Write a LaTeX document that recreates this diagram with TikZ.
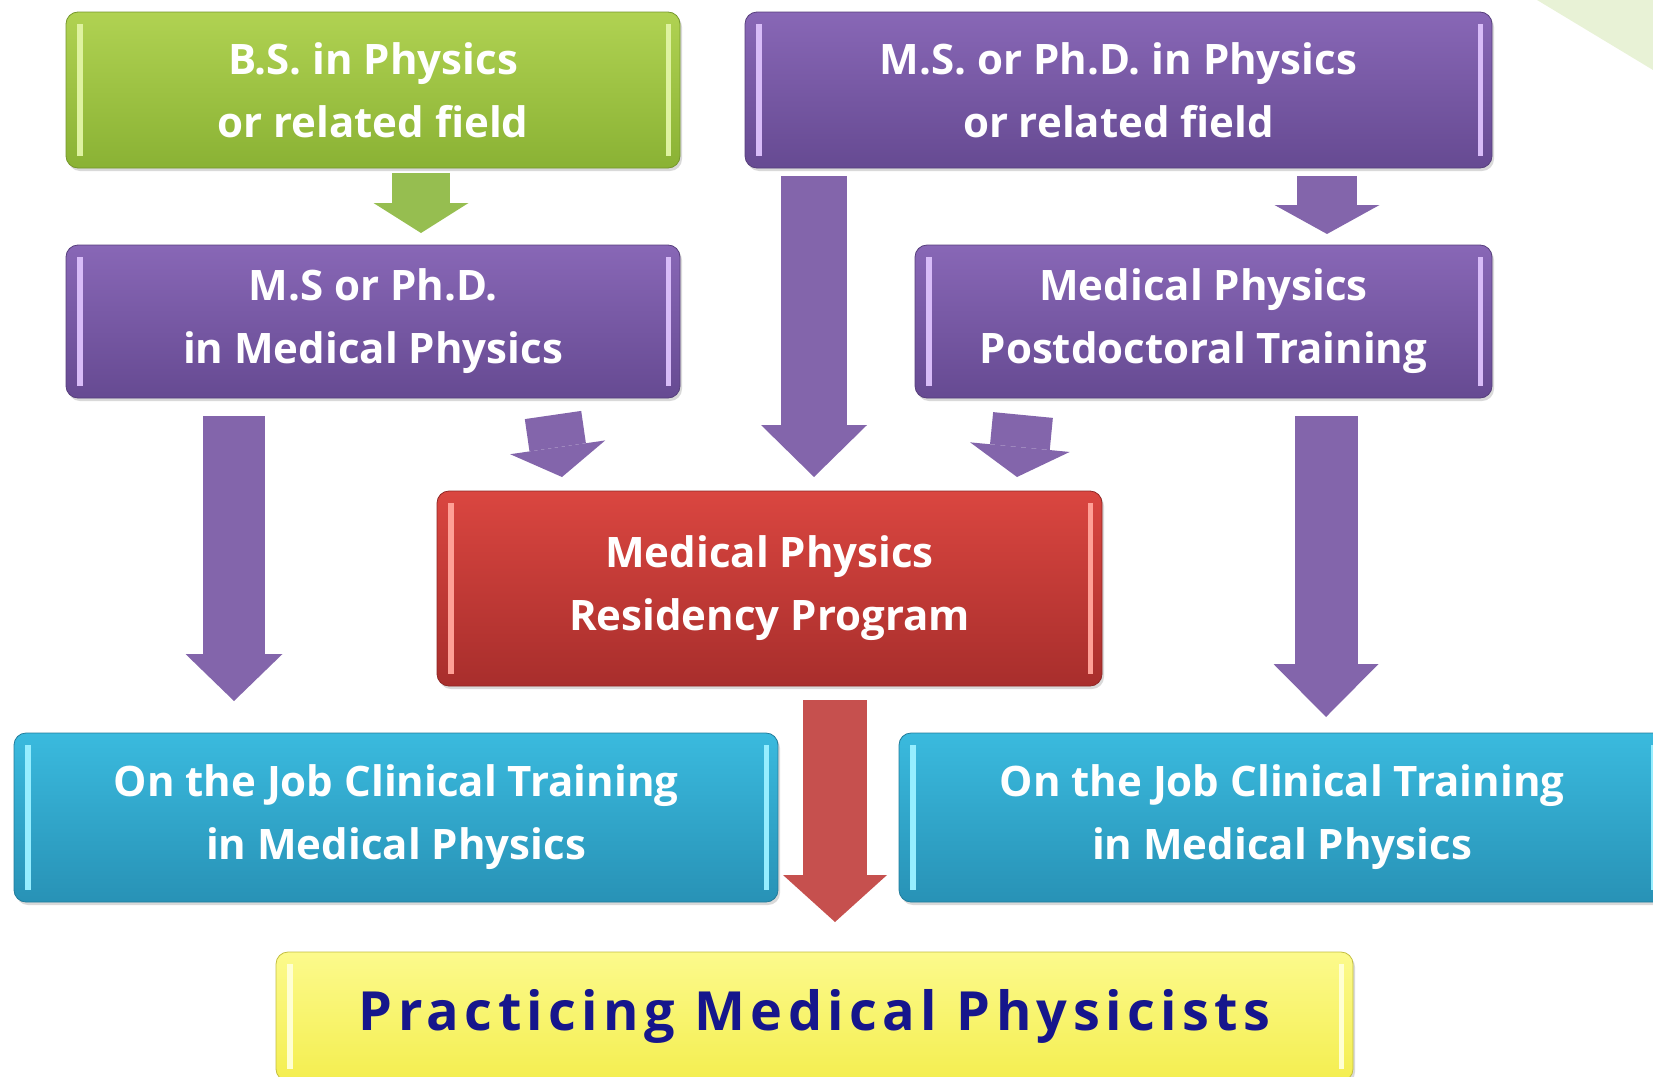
\documentclass[tikz,border=0pt]{standalone}
\usepackage{fontspec}
\setmainfont{Open Sans}
\usetikzlibrary{arrows.meta, shadows}

\definecolor{grtop}{RGB}{176,210,82}
\definecolor{grbot}{RGB}{138,178,52}
\definecolor{grhi}{RGB}{222,242,160}
\definecolor{pptop}{RGB}{136,103,182}
\definecolor{ppbot}{RGB}{102,74,146}
\definecolor{pphi}{RGB}{216,188,248}
\definecolor{rdtop}{RGB}{218,70,64}
\definecolor{rdbot}{RGB}{168,46,44}
\definecolor{rdhi}{RGB}{255,160,150}
\definecolor{bltop}{RGB}{58,186,222}
\definecolor{blbot}{RGB}{40,146,182}
\definecolor{blhi}{RGB}{150,238,255}
\definecolor{yltop}{RGB}{252,250,140}
\definecolor{ylbot}{RGB}{244,238,80}
\definecolor{ylhi}{RGB}{255,255,210}
\definecolor{ptext}{RGB}{22,22,140}
\definecolor{grarr}{RGB}{150,190,80}
\definecolor{pparr}{RGB}{131,101,171}
\definecolor{rdarr}{RGB}{198,80,78}
\definecolor{wedge}{RGB}{232,242,214}

\begin{document}
\begin{tikzpicture}[x=0.5pt, y=-0.5pt,
	glossy/.style={path picture={
		\draw[#1, line width=3pt] ([xshift=7pt, yshift=-6pt]path picture bounding box.north west)
			-- ([xshift=7pt, yshift=6pt]path picture bounding box.south west);
		\draw[#1, line width=2.5pt] ([xshift=-6pt, yshift=-6pt]path picture bounding box.north east)
			-- ([xshift=-6pt, yshift=6pt]path picture bounding box.south east);}},
	box/.style={rounded corners=6pt, align=center, text=white,
		font=\bfseries\fontsize{21}{31.5}\selectfont,
		drop shadow={shadow xshift=1pt, shadow yshift=-1.5pt, opacity=.3}},
	greenbox/.style={box, top color=grtop, bottom color=grbot, draw=grbot!85!black, glossy=grhi},
	purplebox/.style={box, top color=pptop, bottom color=ppbot, draw=ppbot!85!black, glossy=pphi},
	redbox/.style={box, top color=rdtop, bottom color=rdbot, draw=rdbot!85!black, glossy=rdhi},
	bluebox/.style={box, top color=bltop, bottom color=blbot, draw=blbot!85!black, glossy=blhi},
	yellowbox/.style={box, top color=yltop, bottom color=ylbot, draw=ylbot!80!black, glossy=ylhi,
		text=ptext, font=\bfseries\fontsize{27}{32}\selectfont\addfontfeature{LetterSpace=10}},
	blockarrow/.style n args={4}{draw=#1, line width=#2,
		-{Triangle[width=#3, length=#4, line width=0pt]}}]

	\useasboundingbox (0,0) rectangle (1653,1076);
	\clip (0,0) rectangle (1653,1076);
	\fill[wedge] (1537,0) -- (1653,70) -- (1653,0) -- cycle;

	\node[greenbox, minimum width=307pt, minimum height=78pt] (bs) at (373,90)
		{B.S. in Physics\\or related field};
	\node[purplebox, minimum width=373.5pt, minimum height=78pt] (msphys) at (1118.5,90)
		{M.S. or Ph.D. in Physics\\or related field};
	\node[purplebox, minimum width=307pt, minimum height=76.5pt] (msmed) at (373,321.5)
		{M.S or Ph.D.\\in Medical Physics};
	\node[purplebox, minimum width=288.5pt, minimum height=76.5pt] (postdoc) at (1203.5,321.5)
		{Medical Physics\\Postdoctoral Training};
	\node[redbox, minimum width=332.5pt, minimum height=97.5pt] (residency) at (769.5,588.5)
		{Medical Physics\\Residency Program};
	\node[bluebox, minimum width=382pt, minimum height=84.5pt] (ojtleft) at (396,817.5)
		{On the Job Clinical Training\\in Medical Physics};
	\node[bluebox, minimum width=383pt, minimum height=84.5pt] (ojtright) at (1282,817.5)
		{On the Job Clinical Training\\in Medical Physics};
	\node[yellowbox, minimum width=538.5pt, minimum height=64.5pt] (practice) at (814.5,1016.5)
		{Practicing Medical Physicists};

	% arrow ends
	\coordinate (bs-out) at (421,173);       \coordinate (msmed-in) at (421,233);
	\coordinate (msphys-out) at (814,176);   \coordinate (res-in) at (814,477);
	\coordinate (msphys-out2) at (1327,176); \coordinate (postdoc-in) at (1327,234);
	\coordinate (msmed-out) at (234,416);    \coordinate (ojtleft-in) at (234,701);
	\coordinate (msmed-out2) at (553,415);   \coordinate (res-in2) at (562,477);
	\coordinate (postdoc-out) at (1023,415); \coordinate (res-in3) at (1017,477);
	\coordinate (postdoc-out2) at (1326,416);\coordinate (ojtright-in) at (1326,717);
	\coordinate (res-out) at (835,700);      \coordinate (practice-in) at (835,922);

	\draw[blockarrow={grarr}{29pt}{47.5pt}{15pt}] (bs-out) -- (msmed-in);
	\draw[blockarrow={pparr}{33pt}{53pt}{26pt}] (msphys-out) -- (res-in);
	\draw[blockarrow={pparr}{30pt}{52.5pt}{14.5pt}] (msphys-out2) -- (postdoc-in);
	\draw[blockarrow={pparr}{31pt}{48.5pt}{23.5pt}] (msmed-out) -- (ojtleft-in);
	\draw[blockarrow={pparr}{28.5pt}{48pt}{15pt}] (msmed-out2) -- (res-in2);
	\draw[blockarrow={pparr}{30pt}{50pt}{15pt}] (postdoc-out) -- (res-in3);
	\draw[blockarrow={pparr}{31.5pt}{52.5pt}{26.5pt}] (postdoc-out2) -- (ojtright-in);
	\draw[blockarrow={rdarr}{32pt}{52pt}{23.5pt}] (res-out) -- (practice-in);
\end{tikzpicture}
\end{document}
